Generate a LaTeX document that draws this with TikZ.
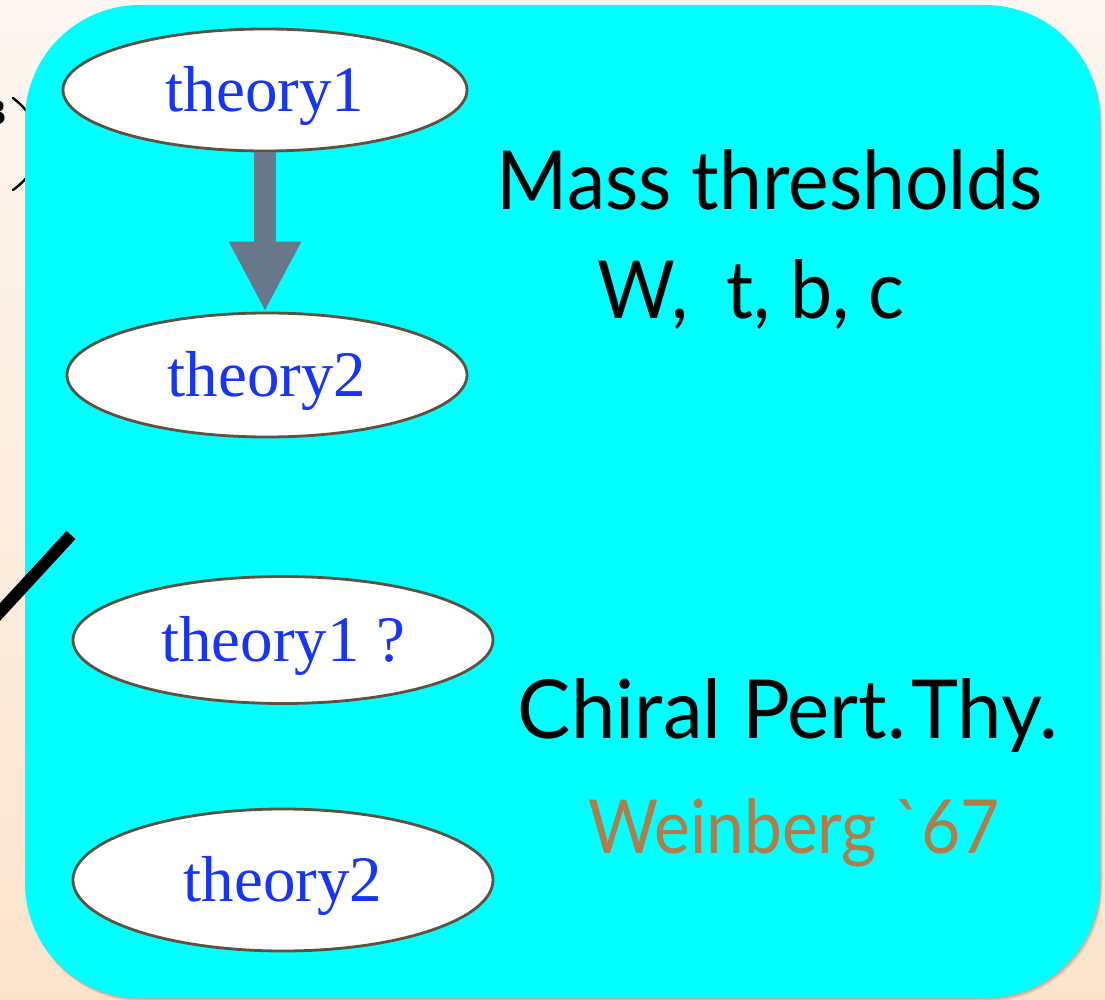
\documentclass[tikz,border=0pt]{standalone}
\usepackage{fontspec}
\usepackage{graphicx}
\setmainfont{Liberation Serif}
\newfontfamily\gillfont{Lato}
\usetikzlibrary{shapes.geometric,arrows.meta}
\definecolor{bgtop}{RGB}{253,247,241}
\definecolor{bgbot}{RGB}{252,228,204}
\definecolor{cyanbox}{RGB}{0,255,255}
\definecolor{ellstroke}{RGB}{92,82,62}
\definecolor{theoryblue}{RGB}{22,52,250}
\definecolor{arrowgray}{RGB}{104,120,138}
\definecolor{weinbrown}{RGB}{176,124,72}
\tikzset{
  theory/.style={ellipse, draw=ellstroke, line width=2.8pt, fill=white, inner sep=0pt,
    text=theoryblue, font=\fontsize{65}{65}\selectfont, text depth=3pt},
  bigarrow/.style={arrowgray, line width=22pt, -{Triangle[width=67pt,length=70pt]}},
  sidetext/.style={anchor=base, inner sep=0pt, font=\gillfont\fontsize{80}{80}\selectfont}
}
\begin{document}
\begin{tikzpicture}[x=1pt,y=-1pt]
\useasboundingbox (0,0) rectangle (1105,1000);
% background
\fill[top color=bgtop, bottom color=bgbot] (0,0) rectangle (1105,1000);
% fragments of text behind the panel
\node[anchor=base east, inner sep=0pt, font=\fontsize{36}{36}\selectfont\bfseries] (three) at (6,125) {3};
\draw[line width=2.4pt, line cap=round] (13,98) .. controls (48,125) and (48,165) .. (13,190);
% panel shadow
\foreach \i in {1,...,5}
  \fill[black, opacity=0.05, rounded corners=115pt] (25+\i*0.5,5+\i*0.8) rectangle (1100+\i*0.5,998+\i*0.8);
% panel
\fill[cyanbox, rounded corners=115pt] (25,5) rectangle (1100,998);
% black stroke from left
\coordinate (l0) at (-12,625);
\coordinate (l1) at (71,535);
\draw[line width=12pt] (l0) -- (l1);
% ellipses
\node[theory, minimum width=404pt, minimum height=122pt] (a1) at (265,90) {theory1};
\node[theory, minimum width=400pt, minimum height=124pt] (a2) at (267,375) {theory2};
\node[theory, minimum width=420pt, minimum height=127pt] (b1) at (283,640) {theory1 ?};
\node[theory, minimum width=420pt, minimum height=142pt] (b2) at (283,880) {theory2};
% arrow
\draw[bigarrow] (a1.south) -- (a1.south |- a2.north);
% right texts
\node[sidetext] (mt) at (770,210) {\resizebox{546pt}{60pt}{Mass thresholds}};
\node[sidetext] (wt) at (751,318) {\resizebox{307pt}{59pt}{W,\ \ t, b, c}};
\node[sidetext] (cp) at (788,738) {\resizebox{540pt}{60pt}{Chiral Pert.\hspace{0.06em}Thy.}};
\node[sidetext, text=weinbrown] (wb) at (794,853) {\resizebox{412pt}{55pt}{Weinberg \symbol{96}67}};
\end{tikzpicture}
\end{document}
